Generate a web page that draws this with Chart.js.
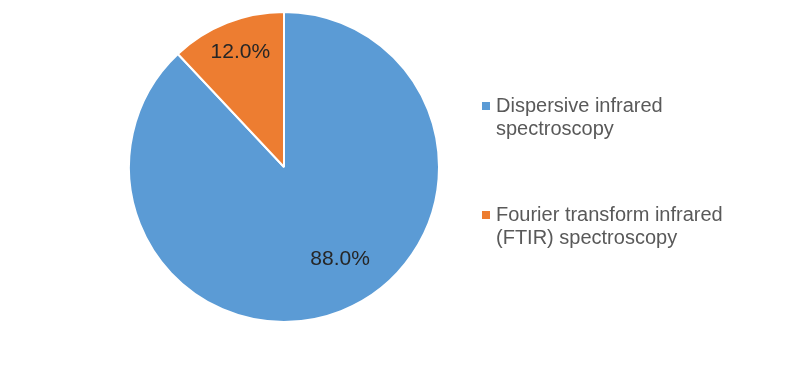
<!DOCTYPE html>
<html>
<head>
<meta charset="utf-8">
<script src="https://cdn.jsdelivr.net/npm/chart.js@4"></script>
<style>
  html, body { margin: 0; padding: 0; background: #fff; }
  .wrap { position: relative; width: 800px; height: 369px; }
  #pie { position: absolute; left: 0; top: 0; }
  .legend { position: absolute; left: 482px; top: 94px; font-family: "Liberation Sans", Arial, sans-serif; font-size: 20px; color: #595959; line-height: 23px; white-space: nowrap; }
  .legend .item { position: relative; padding-left: 14px; margin-bottom: 63px; }
  .legend .box { position: absolute; left: 0; top: 8px; width: 8px; height: 8px; }
</style>
</head>
<body>
<div class="wrap">
  <canvas id="pie" width="800" height="369"></canvas>
  <div class="legend" id="legend"></div>
</div>
<script>
const labels = ["Dispersive infrared spectroscopy", "Fourier transform infrared (FTIR) spectroscopy"];
const legendLines = [["Dispersive infrared", "spectroscopy"], ["Fourier transform infrared", "(FTIR) spectroscopy"]];
const shares = [88.0, 12.0];
const colors = ["#5B9BD5", "#ED7D31"];

// where each % label sits inside its slice (fraction of radius, angle shift in degrees)
const labelRadius = [0.69, 0.8];
const labelShift = [-10, 1];

const sliceLabels = {
  id: "sliceLabels",
  afterDatasetsDraw(chart) {
    const ctx = chart.ctx;
    const meta = chart.getDatasetMeta(0);
    ctx.save();
    ctx.font = "21px 'Liberation Sans', Arial, sans-serif";
    ctx.fillStyle = "#262626";
    ctx.textAlign = "center";
    ctx.textBaseline = "middle";
    meta.data.forEach((arc, i) => {
      const mid = (arc.startAngle + arc.endAngle) / 2 + labelShift[i] * Math.PI / 180;
      const r = arc.outerRadius * labelRadius[i];
      ctx.fillText(shares[i].toFixed(1) + "%", arc.x + Math.cos(mid) * r, arc.y + Math.sin(mid) * r + 1);
    });
    ctx.restore();
  }
};

new Chart(document.getElementById("pie"), {
  type: "pie",
  data: {
    labels: labels,
    datasets: [{
      data: shares,
      backgroundColor: colors,
      borderColor: "#ffffff",
      borderWidth: 2
    }]
  },
  options: {
    responsive: false,
    animation: false,
    layout: { padding: { left: 128, right: 360, top: 11, bottom: 46 } },
    plugins: {
      legend: { display: false },
      tooltip: { enabled: false }
    }
  },
  plugins: [sliceLabels]
});

// legend on the right
const legendEl = document.getElementById("legend");
legendEl.innerHTML = legendLines.map((lines, i) =>
  `<div class="item"><span class="box" style="background:${colors[i]}"></span>${lines.join("<br>")}</div>`
).join("");
</script>
</body>
</html>
